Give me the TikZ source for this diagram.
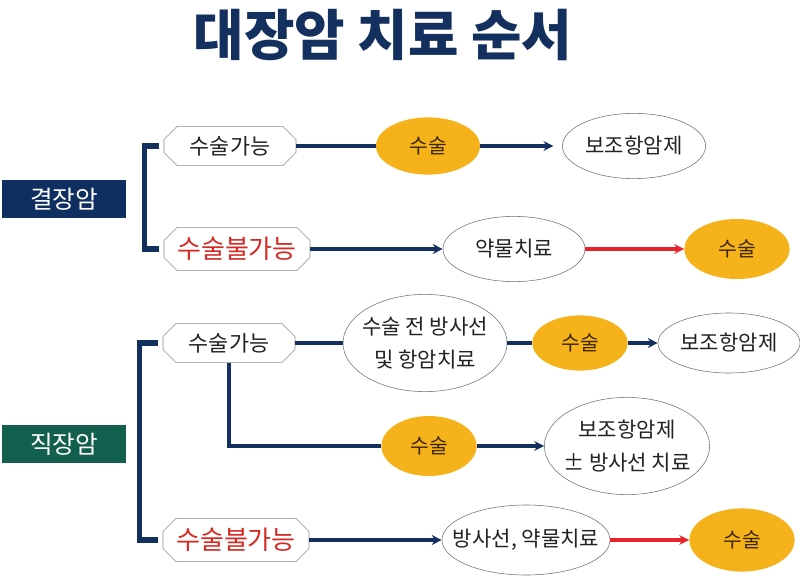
\documentclass[tikz,border=0pt]{standalone}
\usepackage{fontspec}
\setmainfont{Noto Sans CJK KR}
\usetikzlibrary{shapes.geometric,shapes.misc,arrows.meta}

\definecolor{navy}{HTML}{14305E}
\definecolor{colonblue}{HTML}{0E2F5F}
\definecolor{rectgreen}{HTML}{135F4D}
\definecolor{gold}{HTML}{F5B21A}
\definecolor{opred}{HTML}{D42A24}
\definecolor{arred}{HTML}{E8232A}
\definecolor{ink}{HTML}{222222}

\begin{document}
\begin{tikzpicture}[x=0.025cm, y=-0.025cm,
        label box/.style={minimum width=3.08cm, minimum height=0.93cm, inner sep=0pt, text=white, font=\fontsize{17.5}{19}\selectfont},
        choice/.style={chamfered rectangle, chamfered rectangle xsep=0.2cm, draw=black!45, fill=white, inner sep=0pt, minimum width=3.3cm, minimum height=0.98cm, text=ink, font=\fontsize{15.5}{17}\selectfont},
        nochoice/.style={choice, minimum width=3.65cm, minimum height=1.08cm, text=opred, font=\fontsize{18.5}{20}\selectfont},
        surgery/.style={ellipse, fill=gold, inner sep=0pt, minimum width=2.55cm, minimum height=1.45cm, text={rgb,255:red,60;green,38;blue,0}, font=\fontsize{14.5}{16}\selectfont},
        therapy/.style={ellipse, draw=black!55, fill=white, inner xsep=-0.35cm, inner ysep=0pt, align=center, text=ink, font=\fontsize{15}{23}\selectfont},
        link/.style={navy, line width=2.2pt},
        arr/.style={link, -{Stealth[length=7pt, width=7pt]}},
        redarr/.style={arred, line width=2.2pt, -{Stealth[length=7pt, width=7pt]}},
        bracket/.style={navy, line width=3.6pt}]

    % the frame
    \useasboundingbox (0, 0) rectangle (800, 583);

    % title
    \node[text=navy, font=\fontsize{39}{42}\selectfont\bfseries] (title) at (383, 35) {대장암 치료 순서};

    % colon
    \node[label box, fill=colonblue] (colon) at (64, 199) {결장암};
    \node[choice] (op1) at (230, 146) {수술가능};
    \node[nochoice] (np1) at (237, 249) {수술불가능};
    \node[surgery, minimum width=2.6cm, minimum height=1.43cm] (su1) at (428, 146) {수술};
    \node[therapy, minimum width=3.58cm, minimum height=1.63cm] (bo1) at (634, 146) {보조항암제};
    \node[therapy, minimum width=3.55cm, minimum height=1.63cm] (ya1) at (514, 249) {약물치료};
    \node[surgery, minimum width=2.63cm, minimum height=1.5cm] (su2) at (737, 249) {수술};

    \draw[bracket] ([xshift=-0.12cm]op1.west) -- ++(-14, 0) |- ([xshift=-0.12cm]np1.west);
    \draw[link] (op1.east) -- (su1);
    \draw[arr, shorten >=0.22cm] (su1) -- (bo1);
    \draw[arr] (np1.east) -- (ya1);
    \draw[redarr] (ya1) -- (su2);

    % rectum
    \node[label box, fill=rectgreen] (rectum) at (64, 444) {직장암};
    \node[choice] (op2) at (229, 343) {수술가능};
    \node[nochoice] (np2) at (236, 540) {수술불가능};
    \node[therapy, minimum width=4.1cm, minimum height=2.43cm] (pre) at (425, 343) {수술 전 방사선\\및 항암치료};
    \node[surgery, minimum width=2.38cm, minimum height=1.38cm] (su3) at (580, 343) {수술};
    \node[therapy, minimum width=3.55cm, minimum height=1.5cm] (bo2) at (729, 343) {보조항암제};
    \node[surgery, minimum width=2.38cm, minimum height=1.5cm] (su4) at (429, 446) {수술};
    \node[therapy, minimum width=4.13cm, minimum height=2.43cm] (bo3) at (627, 446) {보조항암제\\± 방사선 치료};
    \node[therapy, minimum width=4.2cm, minimum height=1.75cm] (ra) at (526, 540) {방사선, 약물치료};
    \node[surgery, minimum width=2.63cm, minimum height=1.58cm] (su5) at (742, 540) {수술};

    \draw[bracket] ([xshift=-0.12cm]op2.west) -- ++(-18, 0) |- ([xshift=-0.12cm]np2.west);
    \draw[link] (op2.east) -- (pre);
    \draw[link] (pre) -- (su3);
    \draw[arr] (su3) -- (bo2);
    \draw[link] (op2.south) |- (su4);
    \draw[arr] (su4) -- (bo3);
    \draw[arr] (np2.east) -- (ra);
    \draw[redarr] (ra) -- (su5);

\end{tikzpicture}
\end{document}
